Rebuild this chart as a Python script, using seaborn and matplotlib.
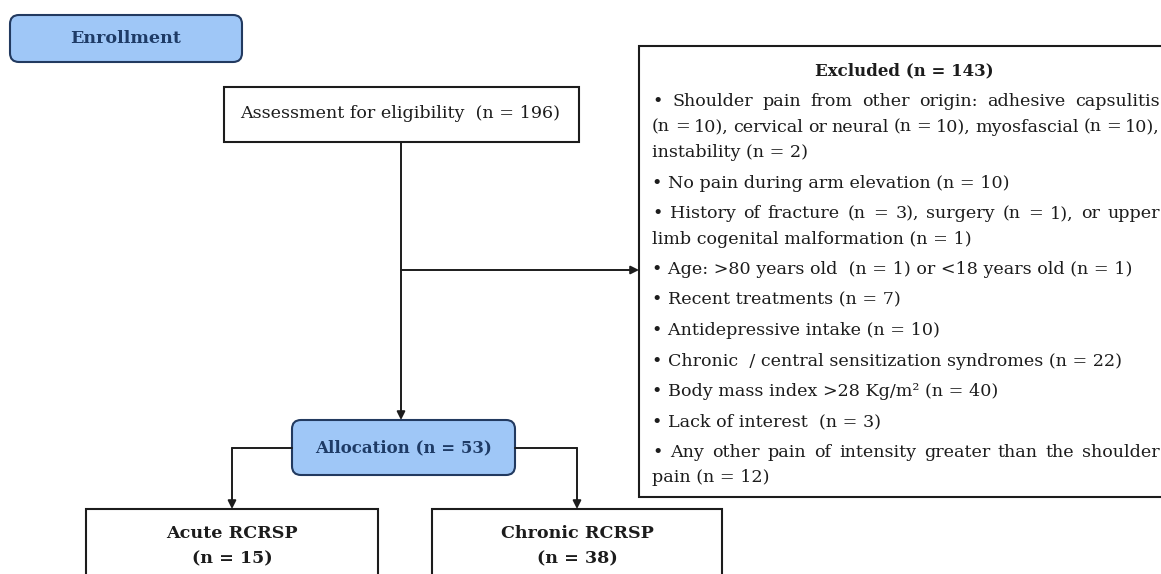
import numpy as np
import pandas as pd
import matplotlib.pyplot as plt
import seaborn as sns
from matplotlib.patches import FancyBboxPatch, Rectangle

# flow counts
n_assessed = 196
n_excluded = 143
n_allocated = 53
groups = ['Acute RCRSP', 'Chronic RCRSP']
group_n = [15, 38]

# exclusion reasons, one list of printed lines per bullet (True = justified line)
reasons = [
    [('• Shoulder pain from other origin: adhesive capsulitis', True),
     ('(n = 10), cervical or neural (n = 10), myosfascial (n = 10),', True),
     ('instability (n = 2)', False)],
    [('• No pain during arm elevation (n = 10)', False)],
    [('• History of fracture (n = 3), surgery (n = 1), or upper', True),
     ('limb cogenital malformation (n = 1)', False)],
    [('• Age: >80 years old  (n = 1) or <18 years old (n = 1)', False)],
    [('• Recent treatments (n = 7)', False)],
    [('• Antidepressive intake (n = 10)', False)],
    [('• Chronic  / central sensitization syndromes (n = 22)', False)],
    [('• Body mass index >28 Kg/m² (n = 40)', False)],
    [('• Lack of interest  (n = 3)', False)],
    [('• Any other pain of intensity greater than the shoulder', True),
     ('pain (n = 12)', False)],
]

sns.set_theme(style='white')
plt.rcParams['font.family'] = ['DejaVu Serif']

fig = plt.figure(figsize=(11.61, 5.74), dpi=100)
ax = fig.add_axes([0, 0, 1, 1])
ax.set_xlim(0, 1161)
ax.set_ylim(574, 0)
ax.axis('off')

blue = '#9fc7f7'
navy = '#223a60'
navy_txt = '#1e3b66'
ink = '#1c1c1c'
fs = 12.6


def rbox(x0, y0, x1, y1, text, size):
    ax.add_patch(FancyBboxPatch((x0, y0), x1 - x0, y1 - y0,
                                boxstyle='round,pad=0,rounding_size=9',
                                fc=blue, ec=navy, lw=1.5))
    ax.text((x0 + x1) / 2, (y0 + y1) / 2, text, ha='center', va='center',
            fontsize=size, fontweight='bold', color=navy_txt)


def box(x0, y0, x1, y1):
    ax.add_patch(Rectangle((x0, y0), x1 - x0, y1 - y0, fc='white', ec=ink,
                           lw=1.5, clip_on=False))


def arrow(xs, ys):
    ax.plot(xs[:-1], ys[:-1], color=ink, lw=1.4)
    ax.annotate('', xy=(xs[-1], ys[-1]), xytext=(xs[-2], ys[-2]),
                arrowprops=dict(arrowstyle='-|>', color=ink, lw=1.4,
                                mutation_scale=12, shrinkA=0, shrinkB=0))


renderer = fig.canvas.get_renderer()


def put_line(x, y, text, width=None):
    if width is None:
        ax.text(x, y, text, ha='left', va='center', fontsize=fs, color=ink)
        return
    words = text.split()
    ts = [ax.text(0, y, w, ha='left', va='center', fontsize=fs, color=ink)
          for w in words]
    ws = [t.get_window_extent(renderer).width for t in ts]
    gap = (width - sum(ws)) / (len(words) - 1)
    cx = x
    for t, w in zip(ts, ws):
        t.set_x(cx)
        cx += w + gap


# enrollment
rbox(10, 15, 242, 62, 'Enrollment', 12.6)
box(224, 87, 579, 142)
ax.text(400, 114, f'Assessment for eligibility  (n = {n_assessed})',
        ha='center', va='center', fontsize=fs, color=ink)

# excluded box
box(639, 46, 1175, 497)
ax.text(904, 71, f'Excluded (n = {n_excluded})', ha='center', va='center',
        fontsize=12, fontweight='bold', color=ink)
y = 71
for para in reasons:
    for i, (line, just) in enumerate(para):
        y += 30.5 if i == 0 else 25.5
        put_line(652, y, line, 508 if just else None)

# arrows from assessment
arrow([401, 401], [142, 420])
arrow([401, 639], [270, 270])

# allocation
rbox(292, 420, 515, 475, f'Allocation (n = {n_allocated})', 12)
arrow([292, 232, 232], [448, 448, 509])
arrow([515, 577, 577], [448, 448, 509])

# group boxes
for (x0, x1), g, n in zip([(86, 378), (432, 722)], groups, group_n):
    box(x0, 509, x1, 600)
    ax.text((x0 + x1) / 2, 534, g, ha='center', va='center', fontsize=12.6,
            fontweight='bold', color=ink)
    ax.text((x0 + x1) / 2, 559, f'(n = {n})', ha='center', va='center',
            fontsize=12.6, fontweight='bold', color=ink)

fig.savefig('out.png', dpi=100)
